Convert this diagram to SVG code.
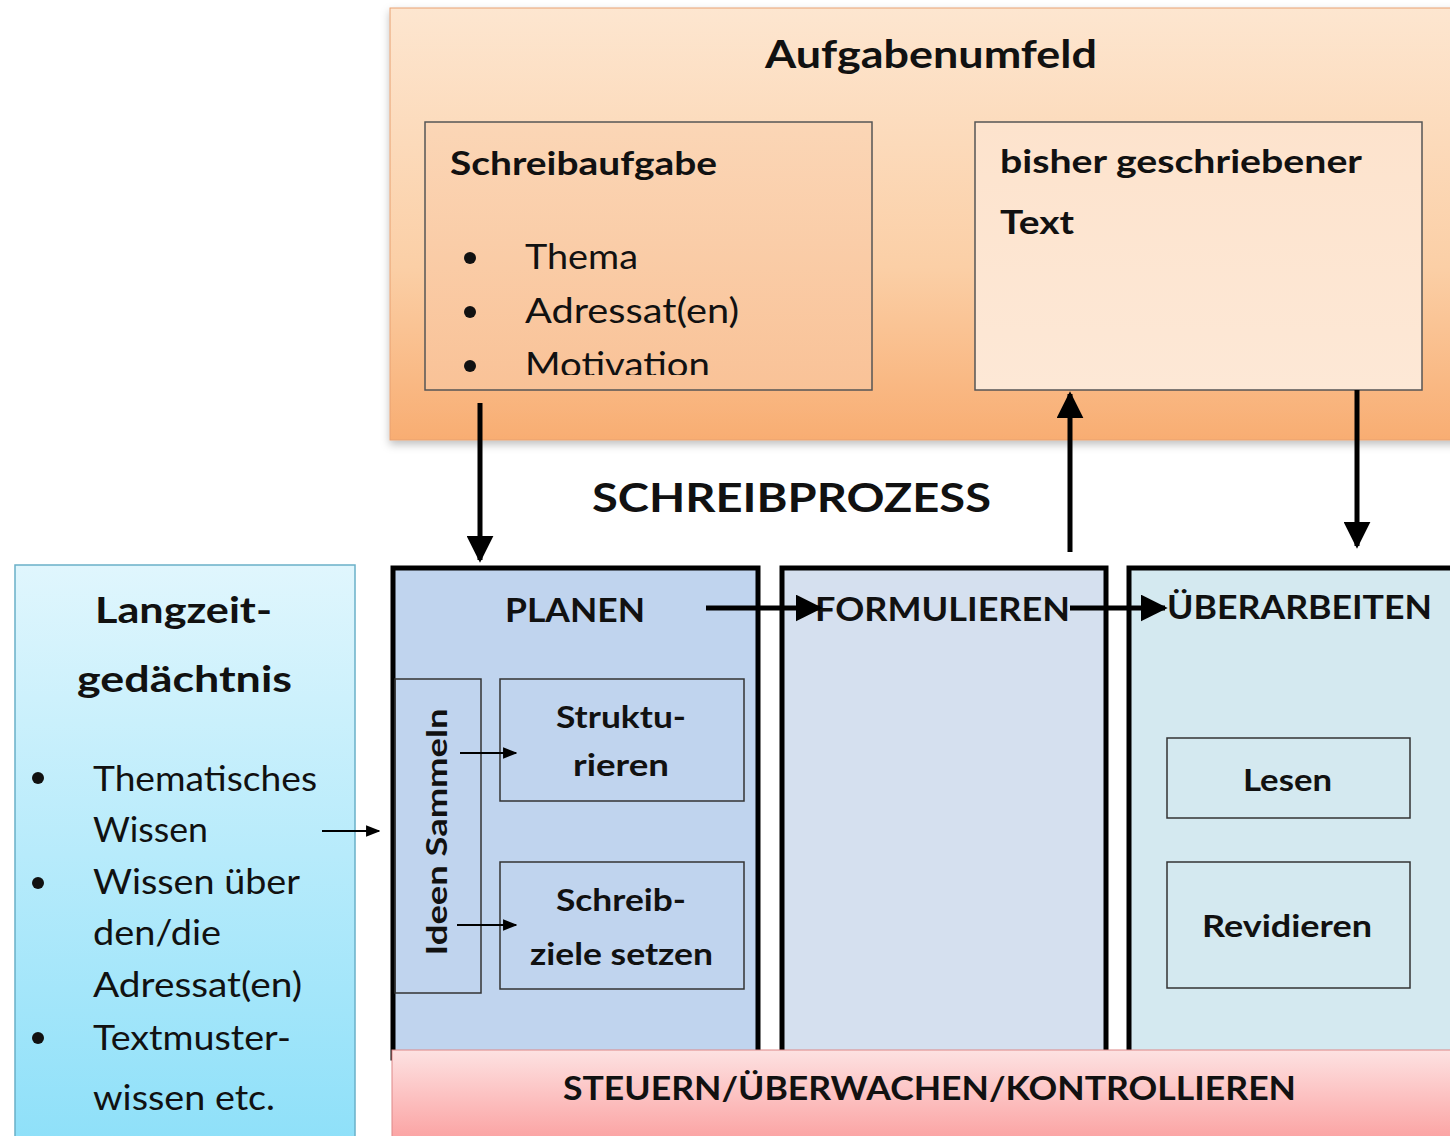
<svg xmlns="http://www.w3.org/2000/svg" width="1450" height="1136" viewBox="0 0 1450 1136">
<defs>
<linearGradient id="gOrange" x1="0" y1="0" x2="0" y2="1"><stop offset="0" stop-color="#fde6d0"/><stop offset="0.6" stop-color="#fbcfa6"/><stop offset="1" stop-color="#f8ad72"/></linearGradient>
<linearGradient id="gTask" x1="0" y1="0" x2="0" y2="1"><stop offset="0" stop-color="#fbd6b6"/><stop offset="1" stop-color="#f9c297"/></linearGradient>
<linearGradient id="gText" x1="0" y1="0" x2="0" y2="1"><stop offset="0" stop-color="#fde3cd"/><stop offset="1" stop-color="#fde8d6"/></linearGradient>
<linearGradient id="gCyan" x1="0" y1="0" x2="0" y2="1"><stop offset="0" stop-color="#e0f6fd"/><stop offset="1" stop-color="#8ee0f9"/></linearGradient>
<linearGradient id="gRed" x1="0" y1="0" x2="0" y2="1"><stop offset="0" stop-color="#fde2e2"/><stop offset="1" stop-color="#fb9e9e"/></linearGradient>
<filter id="shadow" x="-5%" y="-5%" width="110%" height="115%"><feDropShadow dx="0" dy="4" stdDeviation="4" flood-color="#000" flood-opacity="0.25"/></filter>
<marker id="ahBig" viewBox="0 0 10 10" refX="9" refY="5" markerWidth="5.4" markerHeight="5.4" orient="auto" markerUnits="strokeWidth"><path d="M0,0 L10,5 L0,10 z" fill="#000"/></marker>
<marker id="ahSmall" viewBox="0 0 10 10" refX="9" refY="5" markerWidth="8" markerHeight="8" orient="auto" markerUnits="strokeWidth"><path d="M0,1 L10,5 L0,9 z" fill="#000"/></marker>
<clipPath id="clipTask"><rect x="425" y="122" width="447" height="253"/></clipPath>
<style>
.t{font-family:Lato,"Open Sans","Liberation Sans",sans-serif;fill:#111}
.b{font-weight:bold}
.thin{fill:none;stroke:#333;stroke-width:1.5}
.phase{stroke:#000;stroke-width:5}
.con{stroke:#000;fill:none}
</style>
</defs>

<g id="aufgabenumfeld">
<rect x="390" y="8" width="1070" height="432" fill="url(#gOrange)" stroke="#e8a070" stroke-width="1" filter="url(#shadow)"/>
<text class="t b" x="765" y="68" font-size="39" textLength="332" lengthAdjust="spacingAndGlyphs">Aufgabenumfeld</text>
</g>

<g id="schreibaufgabe">
<rect x="425" y="122" width="447" height="268" fill="url(#gTask)" stroke="#555" stroke-width="1.5"/>
<text class="t b" x="450" y="175" font-size="33" textLength="267" lengthAdjust="spacingAndGlyphs">Schreibaufgabe</text>
<g clip-path="url(#clipTask)">
<circle cx="470" cy="258" r="6" fill="#111"/>
<circle cx="470" cy="312" r="6" fill="#111"/>
<circle cx="470" cy="366" r="6" fill="#111"/>
<text class="t" x="525" y="269" font-size="34" textLength="113" lengthAdjust="spacingAndGlyphs">Thema</text>
<text class="t" x="525" y="323" font-size="34" textLength="214" lengthAdjust="spacingAndGlyphs">Adressat(en)</text>
<text class="t" x="525" y="377" font-size="34" textLength="185" lengthAdjust="spacingAndGlyphs">Motivation</text>
</g>
</g>

<g id="bisherText">
<rect x="975" y="122" width="447" height="268" fill="url(#gText)" stroke="#555" stroke-width="1.5"/>
<text class="t b" x="1000" y="173" font-size="33" textLength="362" lengthAdjust="spacingAndGlyphs">bisher geschriebener</text>
<text class="t b" x="1000" y="234" font-size="33" textLength="74" lengthAdjust="spacingAndGlyphs">Text</text>
</g>

<g id="titel">
<text class="t b" x="592" y="512" font-size="41" textLength="399" lengthAdjust="spacingAndGlyphs">SCHREIBPROZESS</text>
</g>

<g id="langzeit">
<rect x="15" y="565" width="340" height="580" fill="url(#gCyan)" stroke="#6ab0c8" stroke-width="1.5"/>
<text class="t b" x="95" y="623" font-size="37" textLength="177" lengthAdjust="spacingAndGlyphs">Langzeit-</text>
<text class="t b" x="77" y="692" font-size="37" textLength="215" lengthAdjust="spacingAndGlyphs">gedächtnis</text>
<circle cx="38" cy="778" r="6" fill="#111"/>
<circle cx="38" cy="883" r="6" fill="#111"/>
<circle cx="38" cy="1038" r="6" fill="#111"/>
<text class="t" x="93" y="791" font-size="34" textLength="224" lengthAdjust="spacingAndGlyphs">Thematisches</text>
<text class="t" x="93" y="842" font-size="34" textLength="115" lengthAdjust="spacingAndGlyphs">Wissen</text>
<text class="t" x="93" y="894" font-size="34" textLength="207" lengthAdjust="spacingAndGlyphs">Wissen über</text>
<text class="t" x="93" y="945" font-size="34" textLength="128" lengthAdjust="spacingAndGlyphs">den/die</text>
<text class="t" x="93" y="997" font-size="34" textLength="209" lengthAdjust="spacingAndGlyphs">Adressat(en)</text>
<text class="t" x="93" y="1050" font-size="34" textLength="198" lengthAdjust="spacingAndGlyphs">Textmuster-</text>
<text class="t" x="93" y="1110" font-size="34" textLength="182" lengthAdjust="spacingAndGlyphs">wissen etc.</text>
</g>

<g id="planen">
<rect x="393" y="568" width="365" height="490" fill="#c0d4ee" class="phase"/>
<text class="t b" x="505" y="622" font-size="33" textLength="140" lengthAdjust="spacingAndGlyphs">PLANEN</text>
</g>
<g id="ideenSammeln">
<rect x="395" y="679" width="86" height="314" class="thin"/>
<text class="t b" font-size="29" x="-123.5" y="0" textLength="247" lengthAdjust="spacingAndGlyphs" transform="translate(447,832) rotate(-90)">Ideen Sammeln</text>
</g>
<g id="strukturieren">
<rect x="500" y="679" width="244" height="122" class="thin"/>
<text class="t b" x="556" y="728" font-size="31" textLength="130" lengthAdjust="spacingAndGlyphs">Struktu-</text>
<text class="t b" x="573" y="776" font-size="31" textLength="96" lengthAdjust="spacingAndGlyphs">rieren</text>
</g>
<g id="schreibziele">
<rect x="500" y="862" width="244" height="127" class="thin"/>
<text class="t b" x="556" y="911" font-size="31" textLength="130" lengthAdjust="spacingAndGlyphs">Schreib-</text>
<text class="t b" x="530" y="965" font-size="31" textLength="183" lengthAdjust="spacingAndGlyphs">ziele setzen</text>
</g>

<g id="formulieren">
<rect x="782" y="568" width="324" height="490" fill="#d5e0ef" class="phase"/>
<text class="t b" x="815" y="621" font-size="33" textLength="255" lengthAdjust="spacingAndGlyphs">FORMULIEREN</text>
</g>

<g id="ueberarbeiten">
<rect x="1129" y="568" width="340" height="490" fill="#d4e9f0" class="phase"/>
<text class="t b" x="1167" y="619" font-size="33" textLength="265" lengthAdjust="spacingAndGlyphs">ÜBERARBEITEN</text>
</g>
<g id="lesen">
<rect x="1167" y="738" width="243" height="80" class="thin"/>
<text class="t b" x="1243" y="791" font-size="31" textLength="89" lengthAdjust="spacingAndGlyphs">Lesen</text>
</g>
<g id="revidieren">
<rect x="1167" y="862" width="243" height="126" class="thin"/>
<text class="t b" x="1202" y="937" font-size="31" textLength="170" lengthAdjust="spacingAndGlyphs">Revidieren</text>
</g>

<g id="steuern">
<rect x="392" y="1050" width="1070" height="96" fill="url(#gRed)" stroke="#d88" stroke-width="1"/>
<text class="t b" x="563" y="1100" font-size="33" textLength="733" lengthAdjust="spacingAndGlyphs">STEUERN/ÜBERWACHEN/KONTROLLIEREN</text>
</g>

<g id="connectors">
<line x1="480" y1="403" x2="480" y2="560" class="con" stroke-width="5" marker-end="url(#ahBig)"/>
<line x1="1070" y1="552" x2="1070" y2="394" class="con" stroke-width="5" marker-end="url(#ahBig)"/>
<line x1="1357" y1="390" x2="1357" y2="546" class="con" stroke-width="5" marker-end="url(#ahBig)"/>
<line x1="706" y1="608" x2="820" y2="608" class="con" stroke-width="5" marker-end="url(#ahBig)"/>
<line x1="1070" y1="608" x2="1165" y2="608" class="con" stroke-width="5" marker-end="url(#ahBig)"/>
<line x1="322" y1="831" x2="379" y2="831" class="con" stroke-width="1.8" marker-end="url(#ahSmall)"/>
<line x1="460" y1="753" x2="516" y2="753" class="con" stroke-width="1.8" marker-end="url(#ahSmall)"/>
<line x1="457" y1="925" x2="516" y2="925" class="con" stroke-width="1.8" marker-end="url(#ahSmall)"/>
</g>
</svg>
